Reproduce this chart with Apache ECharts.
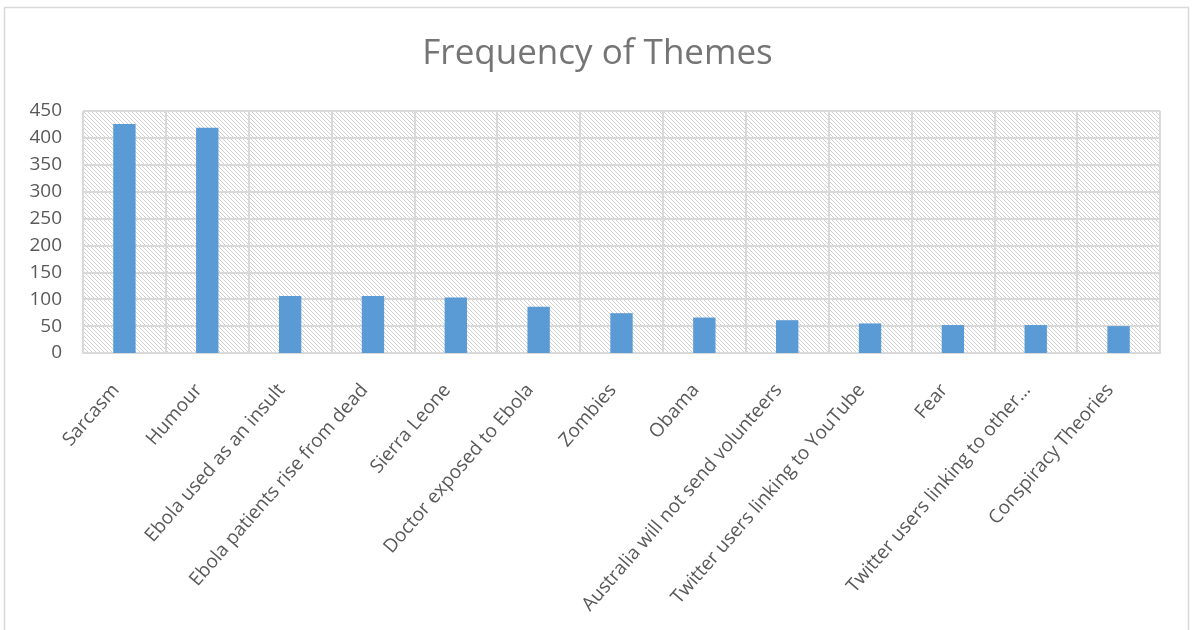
<!DOCTYPE html>
<html>
<head>
<meta charset="utf-8">
<script src="https://cdn.jsdelivr.net/npm/echarts@6/dist/echarts.min.js"></script>
<style>
  html, body { margin: 0; padding: 0; background: #fff; }
  #container { width: 1195px; height: 630px; }
</style>
</head>
<body>
<div id="container"></div>
<script>
// data
var themes = [
    'Sarcasm', 'Humour', 'Ebola used as an insult', 'Ebola patients rise from dead',
    'Sierra Leone', 'Doctor exposed to Ebola', 'Zombies', 'Obama',
    'Australia will not send volunteers', 'Twitter users linking to YouTube', 'Fear',
    'Twitter users linking to other\u2026', 'Conspiracy Theories'
];
var frequency = [426, 419, 106, 106, 103, 86, 74, 66, 61, 55, 52, 52, 50];
var yTicks = [0, 50, 100, 150, 200, 250, 300, 350, 400, 450];

// hatched plot background, like the excel one
function makeHatch() {
    var s = 4;
    var c = document.createElement('canvas');
    c.width = s;
    c.height = s;
    var ctx = c.getContext('2d');
    ctx.fillStyle = '#ffffff';
    ctx.fillRect(0, 0, s, s);
    ctx.strokeStyle = '#d2d2d2';
    ctx.lineWidth = 1;
    ctx.beginPath();
    ctx.moveTo(0, 0); ctx.lineTo(s, s);
    ctx.moveTo(-s / 2, s / 2); ctx.lineTo(s / 2, s * 1.5);
    ctx.moveTo(s / 2, -s / 2); ctx.lineTo(s * 1.5, s / 2);
    ctx.stroke();
    return c;
}

var dom = document.getElementById('container');
var myChart = echarts.init(dom, null, { renderer: 'canvas' });

var gridColor = '#d9d9d9';
var textColor = '#595959';

var option = {
    animation: false,
    title: {
        text: 'Frequency of Themes',
        left: 'center',
        top: 32,
        textStyle: {
            fontFamily: 'Open Sans',
            fontWeight: 'normal',
            fontSize: 35,
            color: '#757575'
        }
    },
    graphic: [
        {
            type: 'rect',
            shape: { x: 4.5, y: 7.5, width: 1184, height: 640 },
            style: { fill: 'none', stroke: gridColor, lineWidth: 1.5 },
            silent: true,
            z: -10
        }
    ],
    grid: {
        left: 83,
        right: 35,
        top: 111,
        bottom: 277,
        show: true,
        borderWidth: 0,
        backgroundColor: { image: makeHatch(), repeat: 'repeat' }
    },
    xAxis: {
        type: 'category',
        data: themes,
        boundaryGap: true,
        axisLine: { show: true, lineStyle: { color: gridColor, width: 2 } },
        axisTick: { show: false },
        splitLine: { show: true, interval: 0, lineStyle: { color: gridColor, width: 2 } },
        axisLabel: {
            interval: 0,
            rotate: 49,
            margin: 24,
            padding: [0, 13, 0, 0],
            fontFamily: 'Open Sans',
            fontSize: 19,
            color: textColor
        }
    },
    yAxis: {
        type: 'value',
        min: yTicks[0],
        max: yTicks[yTicks.length - 1],
        interval: 50,
        axisLine: { show: false },
        axisTick: { show: false },
        splitLine: { show: true, lineStyle: { color: gridColor, width: 2 } },
        axisLabel: {
            margin: 21,
            fontFamily: 'Open Sans',
            fontSize: 19,
            color: textColor
        }
    },
    series: [
        {
            type: 'bar',
            data: frequency,
            barWidth: '27%',
            itemStyle: { color: '#5b9bd5' }
        }
    ]
};

myChart.setOption(option);
window.addEventListener('resize', myChart.resize);
</script>
</body>
</html>
